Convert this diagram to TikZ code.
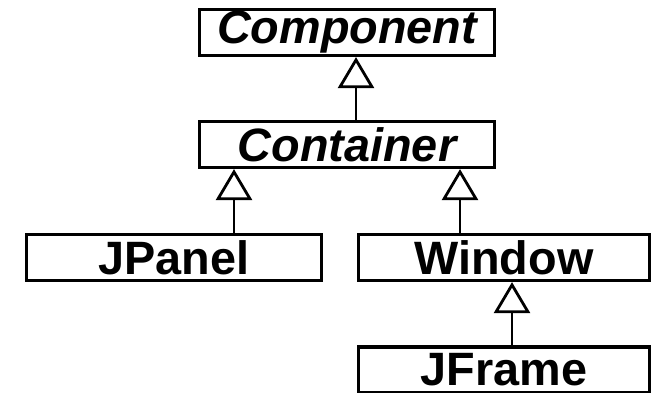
\documentclass[tikz,border=0pt]{standalone}
\usepackage{fontspec}
\setmainfont{Liberation Sans}
\usepackage{tikz}
\usetikzlibrary{arrows.meta}
\tikzstyle{class}=[draw,line width=3.2pt,minimum width=295pt,minimum height=46pt,inner sep=0pt,
  font=\fontsize{46.8}{50}\selectfont\bfseries]
\tikzstyle{abstract}=[class,font=\fontsize{46.8}{50}\selectfont\bfseries\itshape]

\begin{document}
\begin{tikzpicture}[x=1pt,y=-1pt,line width=2.8pt,-{Triangle[open,length=31pt,width=36pt]}]
          \useasboundingbox (0,0) rectangle (653,392);
          \node[abstract] (component) at (347,32.5) {Component};
          \node[abstract] (container) at (347,144.5) {Container};
          \node[class] (jpanel) at (174,257.5) {JPanel};
          \node[class,minimum width=291pt] (window) at (504,257.5) {Window};
          \node[class,minimum width=291pt] (jframe) at (504,370) {JFrame};
          \path
            ([xshift=9pt]container.north) edge ([xshift=9pt]component.south)
            ([xshift=60pt]jpanel.north) edge ([xshift=-113pt]container.south)
            ([xshift=-44pt]window.north) edge ([xshift=113pt]container.south)
            ([xshift=8pt]jframe.north) edge ([xshift=8pt]window.south);
        \end{tikzpicture}
\end{document}
